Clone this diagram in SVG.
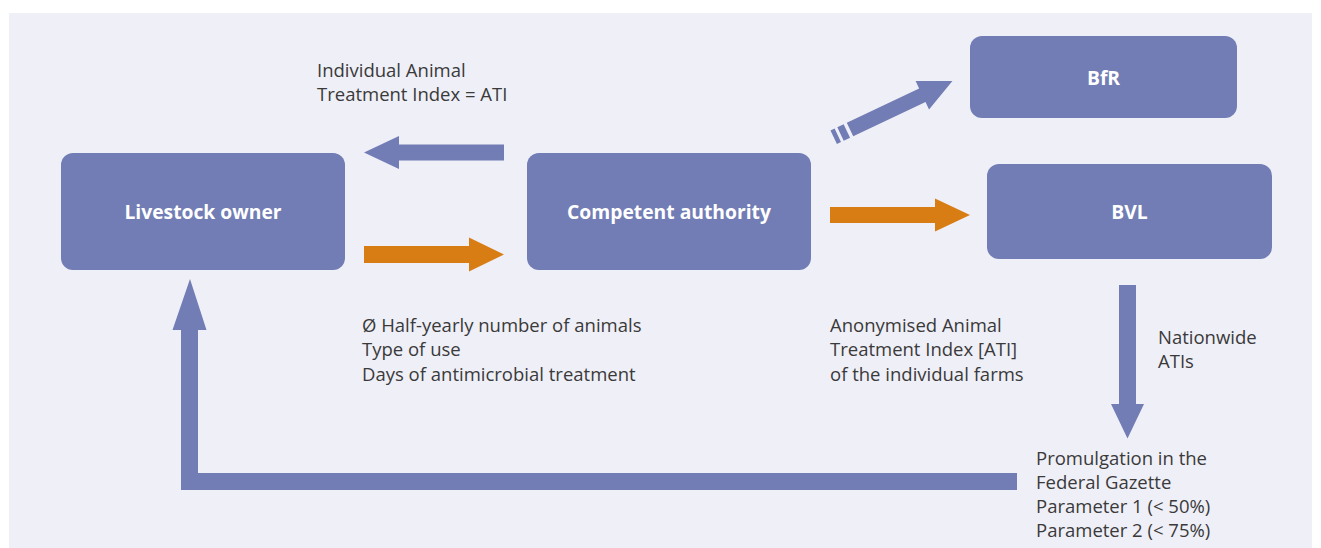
<svg xmlns="http://www.w3.org/2000/svg" width="1321" height="548" viewBox="0 0 1321 548">
<style>
.box{fill:#717db4;}
.blue{fill:#717db4;}
.orange{fill:#d87c14;}
.lbl{font-family:"Open Sans","Liberation Sans",sans-serif;font-size:18.5px;fill:#3a3a3a;}
.nt{font-family:"Open Sans","Liberation Sans",sans-serif;font-size:19.3px;font-weight:bold;fill:#ffffff;text-anchor:middle;dominant-baseline:central;}
</style>
<rect x="0" y="0" width="1321" height="548" fill="#ffffff"/>
<rect x="9" y="13" width="1303" height="535" fill="#efeff8"/>
<g id="connectors">
  <polygon class="blue" points="504,144.5 399,144.5 399,136 364,152.5 399,169 399,160.5 504,160.5"/>
  <polygon class="orange" points="364,246 469,246 469,237.5 504,254.5 469,271.5 469,263 364,263"/>
  <polygon class="orange" points="830,207 935,207 935,198.5 970,215 935,231.5 935,223 830,223"/>
  <g transform="translate(850,129.5) rotate(-25.3)">
    <polygon class="blue" points="0,-7.5 80,-7.5 80,-15.7 113.3,0 80,15.7 80,7.5 0,7.5"/>
    <rect class="blue" x="-10.5" y="-7.5" width="7" height="15"/>
    <rect class="blue" x="-18" y="-7.5" width="4.5" height="15"/>
  </g>
  <polygon class="blue" points="1119,285 1136,285 1136,404 1144,404 1127.5,438.5 1111,404 1119,404"/>
  <polygon class="blue" points="1017,473 1017,490 181,490 181,330 172.5,330 190,279 206.5,330 198,330 198,473"/>
</g>
<g id="livestock-owner">
  <rect class="box" x="61" y="153" width="284" height="117" rx="12"/>
  <text class="nt" x="203" y="211.5">Livestock owner</text>
</g>
<g id="competent-authority">
  <rect class="box" x="527" y="153" width="284" height="117" rx="12"/>
  <text class="nt" x="669" y="211.5">Competent authority</text>
</g>
<g id="bfr">
  <rect class="box" x="970" y="36" width="267" height="82" rx="12"/>
  <text class="nt" x="1103.5" y="77">BfR</text>
</g>
<g id="bvl">
  <rect class="box" x="987" y="164" width="285" height="95" rx="12"/>
  <text class="nt" x="1129.5" y="211.5">BVL</text>
</g>
<g id="labels">
  <text class="lbl" x="317" y="77">Individual Animal</text>
  <text class="lbl" x="317" y="101">Treatment Index = ATI</text>
  <text class="lbl" x="362" y="332">Ø Half-yearly number of animals</text>
  <text class="lbl" x="362" y="356">Type of use</text>
  <text class="lbl" x="362" y="381">Days of antimicrobial treatment</text>
  <text class="lbl" x="830" y="332">Anonymised Animal</text>
  <text class="lbl" x="830" y="356">Treatment Index [ATI]</text>
  <text class="lbl" x="830" y="381">of the individual farms</text>
  <text class="lbl" x="1158" y="344">Nationwide</text>
  <text class="lbl" x="1158" y="368">ATIs</text>
  <text class="lbl" x="1036" y="465">Promulgation in the</text>
  <text class="lbl" x="1036" y="489">Federal Gazette</text>
  <text class="lbl" x="1036" y="513">Parameter 1 (&lt; 50%)</text>
  <text class="lbl" x="1036" y="537">Parameter 2 (&lt; 75%)</text>
</g>
</svg>
